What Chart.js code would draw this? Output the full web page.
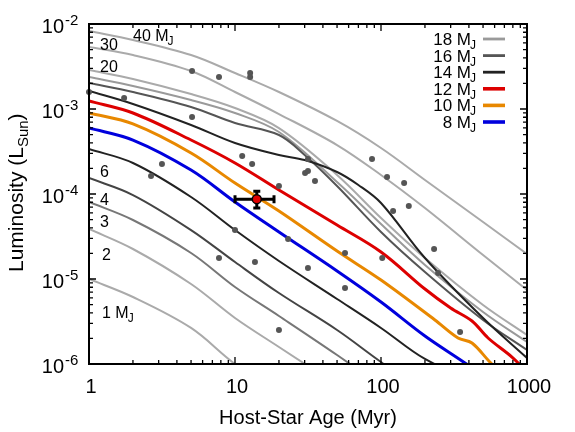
<!DOCTYPE html>
<html><head><meta charset="utf-8">
<script src="https://cdn.jsdelivr.net/npm/chart.js@4/dist/chart.umd.min.js"></script>
<style>html,body{margin:0;padding:0;background:#fff}</style>
</head><body>
<canvas id="c" width="575" height="432"></canvas>
<script>
// ---------------- data (ages in Myr, luminosity as log10(L/Lsun)) ----------------
const AGES = [1,2,5,10,20,50,100,200,500,1000];
const m40LogL = [-2.082,-2.188,-2.365,-2.576,-2.800,-3.141,-3.459,-3.835,-4.329,-4.706];
const m30LogL = [-2.271,-2.365,-2.553,-2.800,-3.059,-3.424,-3.776,-4.165,-4.718,-5.129];
const m20LogL = [-2.541,-2.647,-2.824,-2.988,-3.224,-3.776,-4.282,-4.753,-5.306,-5.659];
const m18LogL = [-2.624,-2.729,-2.894,-3.047,-3.271,-3.859,-4.353,-4.835,-5.388,-5.741];
const m16Age  = [1,2,5,10,20,30,50,100,200,500,1000];
const m16LogL = [-2.694,-2.800,-2.976,-3.165,-3.306,-3.541,-3.906,-4.447,-4.918,-5.482,-5.835];
const m14Age  = [1,2,5,10,20,30,50,70,100,200,500,1000];
const m14LogL = [-2.788,-2.941,-3.188,-3.400,-3.541,-3.600,-3.741,-3.894,-4.106,-4.753,-5.459,-5.929];
const m12Age  = [1,2,5,10,20,50,100,200,300,420,541,789,1000];
const m12LogL = [-2.906,-3.047,-3.365,-3.635,-3.953,-4.365,-4.682,-5.118,-5.341,-5.494,-5.694,-5.918,-6.094];
const m10Age  = [1,2,5,10,20,50,100,234,337,420,575,800];
const m10LogL = [-3.047,-3.176,-3.518,-3.871,-4.200,-4.671,-5.012,-5.482,-5.694,-5.753,-6.000,-6.188];
const m8Age   = [1,2,5,10,20,50,100,200,376,500];
const m8LogL  = [-3.224,-3.365,-3.718,-4.094,-4.447,-4.906,-5.271,-5.671,-5.988,-6.141];
const m6Age   = [1,2,5,10,20,50,100,200,500];
const m6LogL  = [-3.471,-3.635,-4.035,-4.424,-4.788,-5.235,-5.576,-5.941,-6.259];
const m4Age   = [1,2,5,10,20,50,100,200];
const m4LogL  = [-3.812,-4.012,-4.424,-4.800,-5.165,-5.600,-5.976,-6.329];
const m3Age   = [1,2,5,10,20,50,100];
const m3LogL  = [-4.094,-4.306,-4.694,-5.094,-5.435,-5.894,-6.259];
const m2Age   = [1,2,5,10,20,50];
const m2LogL  = [-4.412,-4.647,-5.059,-5.459,-5.800,-6.247];
const m1Age   = [1,2,5,10,20];
const m1LogL  = [-5.000,-5.212,-5.576,-6.000,-6.329];

// observed companions (gray dots)
const dotAge = [1.0,1.74,5.08,7.77,12.7,12.7,5.08,2.66,3.16,11.2,13.1,20.0,31.6,30.2,31.6,35.3,86.8,110,144,121,155,231,246,348,102,56.7,56.7,31.6,23.1,10.0,7.77,13.7,20.0];
const dotL   = [1.585e-3,1.35e-3,2.80e-3,2.38e-3,2.65e-3,2.38e-3,8.05e-4,1.63e-4,2.25e-4,2.80e-4,2.25e-4,1.24e-4,2.58e-4,1.77e-4,1.87e-4,1.42e-4,2.58e-4,1.585e-4,1.35e-4,6.31e-5,7.22e-5,2.25e-5,1.18e-5,2.38e-6,1.77e-5,2.02e-5,7.83e-6,1.35e-5,2.96e-5,3.77e-5,1.77e-5,1.585e-5,2.51e-6];

// highlighted object with error bars
const hlAge = [14.1], hlAgeLo = [10.0], hlAgeHi = [18.5];
const hlL = [8.7e-5], hlLLo = [6.85e-5], hlLHi = [1.08e-4];

// axis ticks
const xMajor = [1,10,100,1000];
const xTickLabels = ['1','10','100','1000'];
const yMajor = [1e-6,1e-5,1e-4,1e-3,1e-2];
const yTickExp = ['-6','-5','-4','-3','-2'];

// legend
const legendMass = ['18','16','14','12','10','8'];
const legendColor = ['#9a9a9a','#555555','#222222','#dd0000','#e88800','#0000dd'];
const legendWidth = [2.2,2.2,2.2,3,3,3];

// ---------------- build ----------------
function series(ages, logL){ return ages.map((a,i)=>({x:a, y:Math.pow(10, logL[i])})); }
function curve(ages, logL, color, w){
  return {type:'line', data:series(ages,logL), borderColor:color, borderWidth:w,
          pointRadius:0, fill:false, tension:0.35};
}
const datasets = [
  {type:'scatter', data:hlAge.map((a,i)=>({x:a,y:hlL[i]})), backgroundColor:'#e00000',
   borderColor:'#000', borderWidth:1.5, pointRadius:4.5, clip:false},
  {type:'scatter', data:dotAge.map((a,i)=>({x:a,y:dotL[i]})), backgroundColor:'#555555',
   borderWidth:0, pointRadius:3, clip:false},
  curve(m8Age, m8LogL, '#0000dd', 3),
  curve(m10Age, m10LogL, '#e88800', 3),
  curve(m12Age, m12LogL, '#dd0000', 3),
  curve(m14Age, m14LogL, '#222222', 2),
  curve(m16Age, m16LogL, '#555555', 2),
  curve(AGES, m18LogL, '#9a9a9a', 2),
  curve(AGES, m20LogL, '#aaaaaa', 2),
  curve(AGES, m30LogL, '#aaaaaa', 2),
  curve(AGES, m40LogL, '#aaaaaa', 2),
  curve(m6Age, m6LogL, '#222222', 2),
  curve(m4Age, m4LogL, '#444444', 2),
  curve(m3Age, m3LogL, '#777777', 2),
  curve(m2Age, m2LogL, '#aaaaaa', 2),
  curve(m1Age, m1LogL, '#aaaaaa', 2)
];

const FONT = '"Liberation Sans", Arial, Helvetica, sans-serif';
function f(px){ return px + 'px ' + FONT; }

function drawMJ(ctx, prefix, x, y, size, align){
  ctx.font = f(size);
  const w = ctx.measureText(prefix).width;
  const x0 = align === 'right' ? x - w : x;
  ctx.textAlign = 'left';
  ctx.fillText(prefix, x0, y);
  ctx.font = f(Math.round(size*0.72));
  ctx.fillText('J', x0 + w - 1, y + 4);
}

const decor = {
  id:'decor',
  beforeDatasetDraw(chart, args){
    if (args.index !== 0) return;
    const {ctx, scales:{x,y}} = chart;
    ctx.save(); ctx.strokeStyle='#000'; ctx.lineWidth=3;
    for (let i=0;i<hlAge.length;i++){
      const px=x.getPixelForValue(hlAge[i]), py=y.getPixelForValue(hlL[i]);
      const x0=x.getPixelForValue(hlAgeLo[i]), x1=x.getPixelForValue(hlAgeHi[i]);
      const y0=y.getPixelForValue(hlLLo[i]), y1=y.getPixelForValue(hlLHi[i]);
      ctx.beginPath();
      ctx.moveTo(x0,py); ctx.lineTo(x1,py);
      ctx.moveTo(px,y0); ctx.lineTo(px,y1);
      ctx.moveTo(x0,py-4); ctx.lineTo(x0,py+4);
      ctx.moveTo(x1,py-4); ctx.lineTo(x1,py+4);
      ctx.moveTo(px-3.5,y0); ctx.lineTo(px+3.5,y0);
      ctx.moveTo(px-3.5,y1); ctx.lineTo(px+3.5,y1);
      ctx.stroke();
    }
    ctx.restore();
  },
  afterDraw(chart){
    const {ctx, chartArea:a, scales:{x,y}} = chart;
    ctx.save();
    // frame
    ctx.strokeStyle='#000'; ctx.lineWidth=2;
    ctx.strokeRect(a.left, a.top, a.right-a.left, a.bottom-a.top);
    // ticks
    ctx.lineWidth=1.3;
    ctx.beginPath();
    for (let d=1; d<1000; d*=10){
      for (let k=1;k<10;k++){
        const v=d*k; const px=x.getPixelForValue(v); const L = k===1?7:4;
        ctx.moveTo(px,a.bottom); ctx.lineTo(px,a.bottom-L);
        ctx.moveTo(px,a.top); ctx.lineTo(px,a.top+L);
      }
    }
    for (let e=-6;e<-2;e++){
      for (let k=1;k<10;k++){
        const v=k*Math.pow(10,e); const py=y.getPixelForValue(v); const L = k===1?7:4;
        ctx.moveTo(a.left,py); ctx.lineTo(a.left+L,py);
        ctx.moveTo(a.right,py); ctx.lineTo(a.right-L,py);
      }
    }
    ctx.stroke();
    ctx.fillStyle='#000';
    // x tick labels
    ctx.font=f(20); ctx.textAlign='center'; ctx.textBaseline='alphabetic';
    xMajor.forEach((v,i)=>{ ctx.fillText(xTickLabels[i], x.getPixelForValue(v)+2, 393); });
    // y tick labels
    yMajor.forEach((v,i)=>{
      const py=y.getPixelForValue(v);
      ctx.font=f(20); ctx.textAlign='right'; ctx.fillText('10', 64, py+9);
      ctx.font=f(15); ctx.textAlign='left'; ctx.fillText(yTickExp[i], 65, py+1);
    });
    // axis titles
    ctx.font=f(20); ctx.textAlign='center';
    ctx.fillText('Host-Star Age (Myr)', 308, 424);
    ctx.save();
    ctx.translate(23, 272); ctx.rotate(-Math.PI/2);
    ctx.textAlign='left'; ctx.font=f(21);
    const t1='Luminosity (L'; ctx.fillText(t1,0,0);
    let w=ctx.measureText(t1).width;
    ctx.font=f(15); ctx.fillText('Sun', w, 5);
    w+=ctx.measureText('Sun').width;
    ctx.font=f(21); ctx.fillText(')', w, 0);
    ctx.restore();
    // legend
    legendMass.forEach((m,i)=>{
      const ry = 39 + i*16.6;
      ctx.fillStyle='#000';
      drawMJ(ctx, m+' M', 471, ry+6, 17, 'right');
      ctx.strokeStyle=legendColor[i]; ctx.lineWidth=legendWidth[i]+0.6;
      ctx.beginPath(); ctx.moveTo(483,ry); ctx.lineTo(505,ry); ctx.stroke();
    });
    // inline curve labels
    ctx.fillStyle='#000'; ctx.textAlign='left';
    drawMJ(ctx,'40 M',133,41,16,'left');
    ctx.font=f(16);
    ctx.fillText('30',100,50);
    ctx.fillText('20',100,72);
    ctx.fillText('6',100,177);
    ctx.fillText('4',100,205);
    ctx.fillText('3',100,227);
    ctx.fillText('2',102,260);
    drawMJ(ctx,'1 M',102,318,16,'left');
    ctx.restore();
  }
};

new Chart(document.getElementById('c'), {
  type:'line',
  data:{datasets},
  options:{
    responsive:false, animation:false, devicePixelRatio:1,
    layout:{padding:{left:89,right:48,top:24,bottom:68}},
    scales:{
      x:{type:'logarithmic', min:1, max:1000, display:false},
      y:{type:'logarithmic', min:1e-6, max:1e-2, display:false}
    },
    plugins:{legend:{display:false}, tooltip:{enabled:false}}
  },
  plugins:[decor]
});
</script>
</body></html>
